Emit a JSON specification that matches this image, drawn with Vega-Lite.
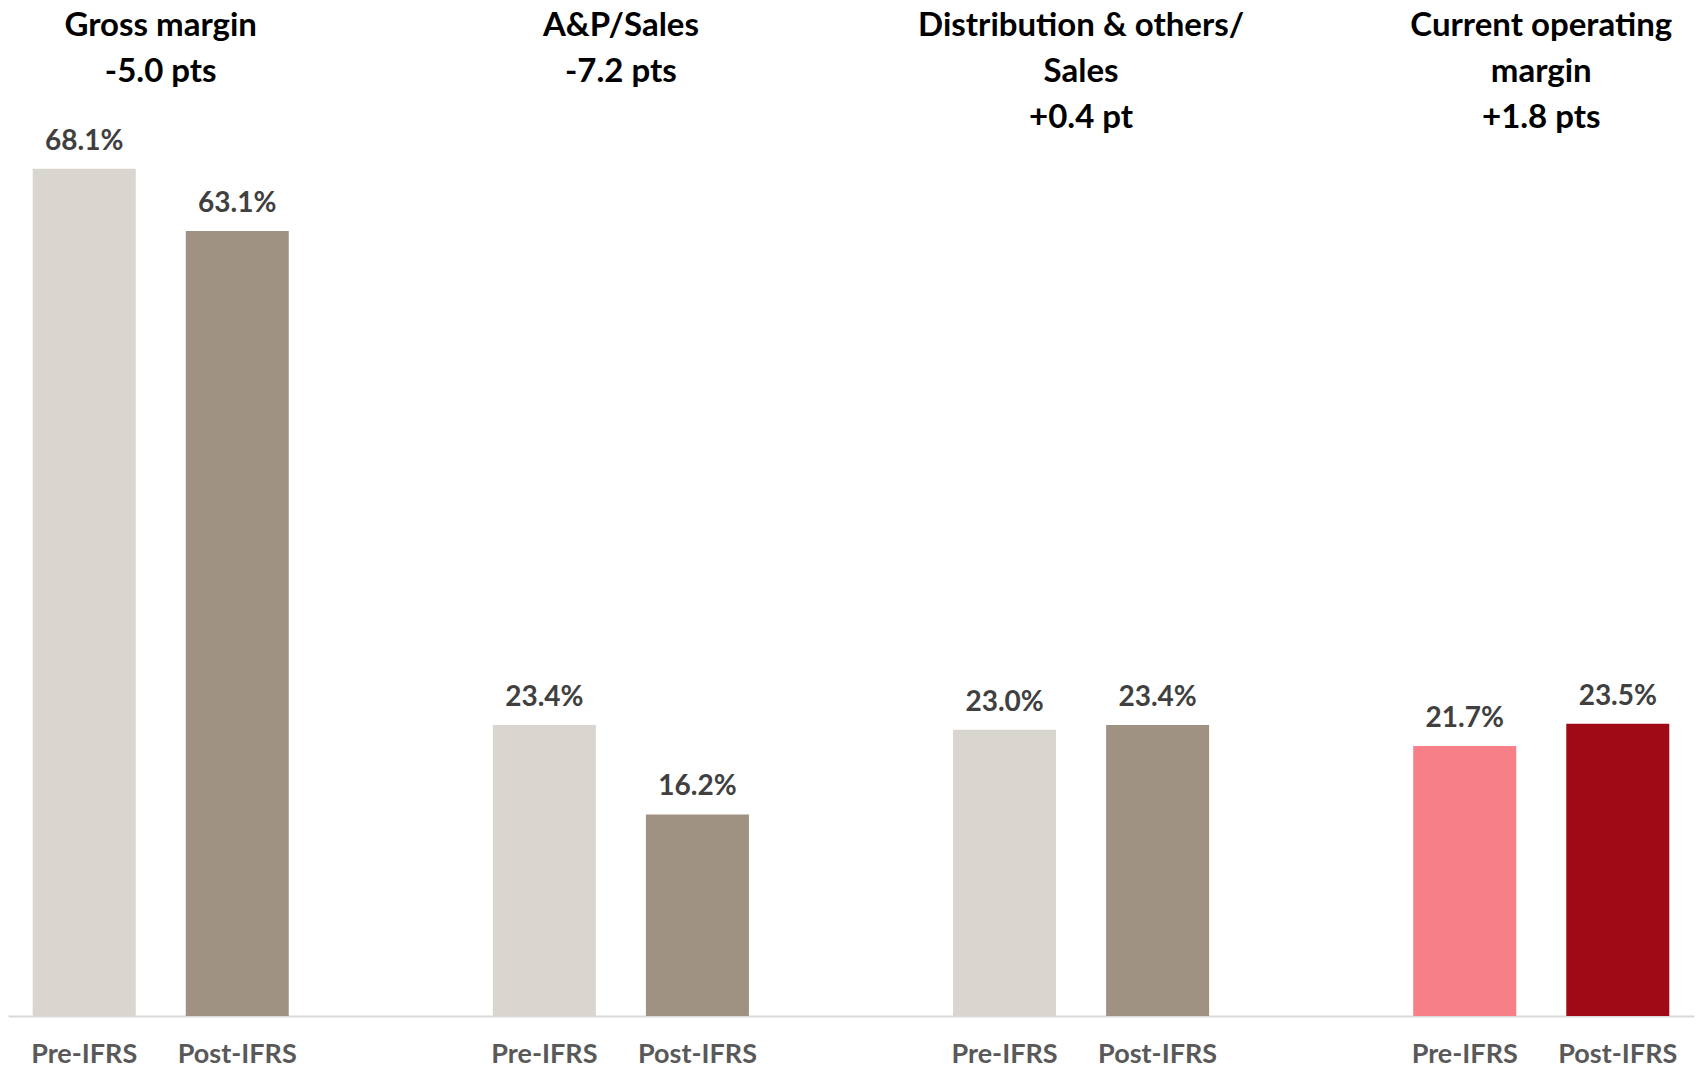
{
  "$schema": "https://vega.github.io/schema/vega-lite/v6.json",
  "width": 1686,
  "height": 1016,
  "autosize": {"type": "none"},
  "padding": {"left": 8, "top": 0, "right": 6, "bottom": 53},
  "background": "white",
  "config": {"view": {"stroke": null}, "font": "Lato"},
  "datasets": {
    "bars": [
      {"group": "Gross margin", "phase": "Pre-IFRS", "tone": "Pre", "value": 0.681},
      {"group": "Gross margin", "phase": "Post-IFRS", "tone": "Post", "value": 0.631},
      {"group": "A&P/Sales", "phase": "Pre-IFRS", "tone": "Pre", "value": 0.234},
      {"group": "A&P/Sales", "phase": "Post-IFRS", "tone": "Post", "value": 0.162},
      {"group": "Distribution & others/Sales", "phase": "Pre-IFRS", "tone": "Pre", "value": 0.230},
      {"group": "Distribution & others/Sales", "phase": "Post-IFRS", "tone": "Post", "value": 0.234},
      {"group": "Current operating margin", "phase": "Pre-IFRS", "tone": "Pre operating", "value": 0.217},
      {"group": "Current operating margin", "phase": "Post-IFRS", "tone": "Post operating", "value": 0.235}
    ],
    "titles": [
      {"group": "Gross margin", "title": ["Gross margin", "-5.0 pts"]},
      {"group": "A&P/Sales", "title": ["A&P/Sales", "-7.2 pts"]},
      {"group": "Distribution & others/Sales", "title": ["Distribution & others/", "Sales", "+0.4 pt"]},
      {"group": "Current operating margin", "title": ["Current operating", "margin", "+1.8 pts"]}
    ]
  },
  "encoding": {
    "x": {
      "field": "group",
      "type": "nominal",
      "sort": ["Gross margin", "A&P/Sales", "Distribution & others/Sales", "Current operating margin"],
      "scale": {"paddingInner": 0.4, "paddingOuter": 0.0319},
      "axis": {"title": null, "labels": false, "ticks": false, "domainColor": "#d9d9d9", "domainWidth": 2, "grid": false}
    }
  },
  "layer": [
    {
      "data": {"name": "bars"},
      "mark": {"type": "bar"},
      "encoding": {
        "xOffset": {"field": "phase", "type": "nominal", "sort": ["Pre-IFRS", "Post-IFRS"], "scale": {"paddingInner": 0.327, "paddingOuter": 0.0655}},
        "y": {"field": "value", "type": "quantitative", "scale": {"domain": [0, 0.8167], "nice": false, "zero": true}, "axis": null},
        "color": {
          "field": "tone",
          "type": "nominal",
          "scale": {"domain": ["Pre", "Post", "Pre operating", "Post operating"], "range": ["#d9d5cf", "#a09283", "#f77f88", "#a00a17"]},
          "legend": null
        }
      }
    },
    {
      "data": {"name": "bars"},
      "mark": {"type": "text", "fontSize": 28, "fontWeight": "bold", "color": "#404040", "baseline": "alphabetic", "dy": -19},
      "encoding": {
        "xOffset": {"field": "phase", "type": "nominal", "sort": ["Pre-IFRS", "Post-IFRS"]},
        "y": {"field": "value", "type": "quantitative"},
        "text": {"field": "value", "type": "quantitative", "format": ".1%"}
      }
    },
    {
      "data": {"name": "bars"},
      "mark": {"type": "text", "fontSize": 27, "fontWeight": "bold", "color": "#595959", "baseline": "alphabetic", "dy": 47},
      "encoding": {
        "xOffset": {"field": "phase", "type": "nominal", "sort": ["Pre-IFRS", "Post-IFRS"]},
        "y": {"datum": 0, "type": "quantitative"},
        "text": {"field": "phase", "type": "nominal"}
      }
    },
    {
      "data": {"name": "titles"},
      "mark": {"type": "text", "fontSize": 33, "fontWeight": "bold", "color": "#000000", "baseline": "top", "lineHeight": 46},
      "encoding": {
        "y": {"datum": 0.8087, "type": "quantitative"},
        "text": {"field": "title"}
      }
    }
  ]
}
